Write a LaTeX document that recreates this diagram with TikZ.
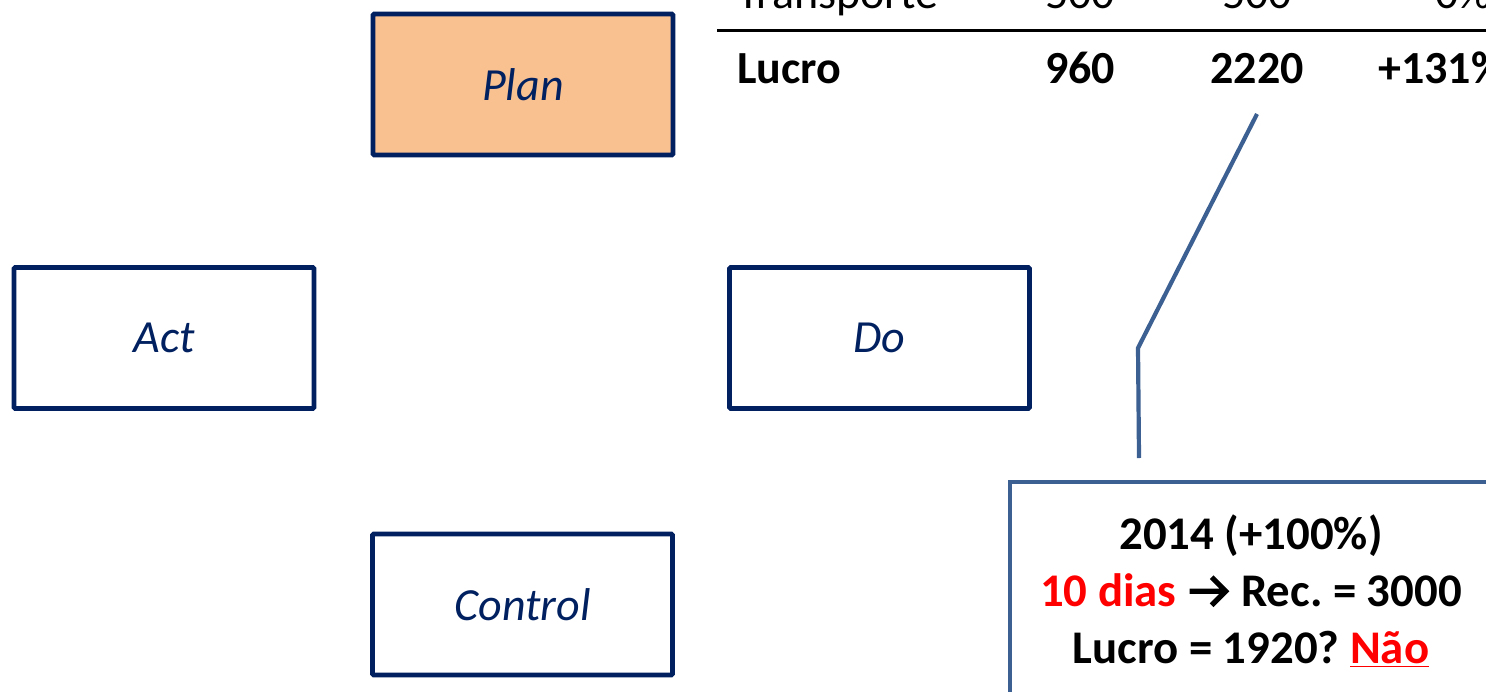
\documentclass[tikz,border=0pt]{standalone}
\usepackage{fontspec}
\setmainfont{Carlito}
\frenchspacing
\definecolor{navy}{RGB}{0,32,96}
\definecolor{planfill}{RGB}{249,192,144}
\definecolor{callblue}{RGB}{60,96,145}
\definecolor{pred}{RGB}{255,0,0}
\tikzset{
  pdcabox/.style={draw=navy, line width=2.3pt, rounded corners=0.6pt, minimum width=150pt, minimum height=70.5pt, inner sep=0pt, font=\fontsize{23}{27}\selectfont\itshape, text=navy},
  tabtxt/.style={inner sep=0pt, font=\fontsize{23}{27}\selectfont, anchor=base},
  tabbold/.style={tabtxt, font=\fontsize{23}{27}\selectfont\bfseries},
  calltxt/.style={inner sep=0pt, align=center, font=\fontsize{23.4}{28.5}\selectfont\bfseries},
  callline/.style={draw=callblue, line width=2.1pt}
}
\newcommand{\boldarrow}{\tikz[baseline=0pt, x=1pt, y=1pt]{\path (0,0) rectangle (21,15); \draw[line width=2.6pt, line cap=butt, line join=miter] (0.5,7.5) -- (18,7.5) (11.5,14.5) -- (18.5,7.5) -- (11.5,0.5);}}
\begin{document}
\begin{tikzpicture}[x=0.5pt,y=-0.5pt]
\useasboundingbox (0,0) rectangle (1486,691);
\clip (0,0) rectangle (1486,691);
% PDCA boxes
\node[pdcabox, fill=planfill] (plan) at (523,84.5) {Plan};
\node[pdcabox] (act) at (164,338) {Act};
\node[pdcabox] (do) at (879.5,338) {Do};
\node[pdcabox] (control) at (522.5,604.5) {Control};
% table
\node[tabtxt, anchor=base west] (tr) at (737,8) {Transporte};
\node[tabtxt] (tra) at (1080,8) {500};
\node[tabtxt] (trb) at (1257,8) {500};
\node[tabtxt, anchor=base east] (trc) at (1492,8) {0\%};
\coordinate (ruleL) at (717,30);
\coordinate (ruleR) at (1490,30);
\draw[line width=1.5pt] (ruleL) -- (ruleR);
\node[tabbold, anchor=base west] (lu) at (737,83) {Lucro};
\node[tabbold] (lua) at (1080,83) {960};
\node[tabbold] (lub) at (1257,83) {2220};
\node[tabbold, anchor=base west] (luc) at (1378,83) {+131\%};
% callout
\coordinate (cbL) at (1010,482);
\coordinate (cbR) at (1540,740);
\draw[callline] (cbR |- cbL) -- (cbL) -- (cbL |- cbR);
\node[calltxt] (calltext) at (1251,591) {2014 (+100\%)\\
  \textcolor{pred}{10 dias} \boldarrow{} Rec. = 3000\\
  Lucro = 1920? \textcolor{pred}{\underline{Não}}};
\coordinate (tip) at (1257,114);
\coordinate (bend) at (1138,348);
\coordinate (cend) at (1139,458);
\draw[callline] (tip) -- (bend) -- (cend);
\end{tikzpicture}
\end{document}
